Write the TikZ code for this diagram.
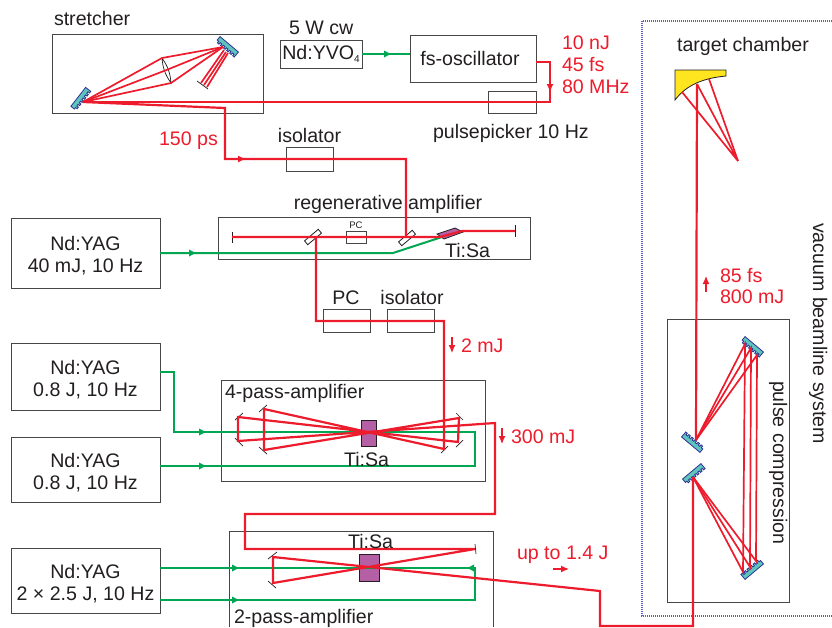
\documentclass[tikz,border=0pt]{standalone}
\usepackage{fontspec}
\setmainfont{Liberation Sans}
\usetikzlibrary{arrows.meta}
\definecolor{ink}{RGB}{35,31,32}
\definecolor{frame}{RGB}{70,70,70}
\definecolor{beamred}{RGB}{237,28,44}
\definecolor{pumpgreen}{RGB}{0,166,81}
\definecolor{crystal}{RGB}{181,95,165}
\definecolor{teal}{RGB}{95,196,190}
\definecolor{gratingblue}{RGB}{46,49,146}
\definecolor{vacblue}{RGB}{95,95,195}
\definecolor{mirroryellow}{RGB}{255,229,31}
\tikzset{
  box/.style={draw=frame,line width=.9pt,inner sep=0pt,outer sep=0pt,text=ink,align=center,font=\fontsize{19.6}{22}\selectfont},
  lbl/.style={inner sep=0pt,outer sep=0pt,anchor=base west,text=ink,font=\fontsize{19.6}{22}\selectfont},
  redlbl/.style={lbl,text=beamred},
  beam/.style={draw=beamred,line width=2.2pt,line join=miter},
  thinbeam/.style={draw=beamred,line width=1.7pt},
  pump/.style={draw=pumpgreen,line width=2pt},
  redtip/.style={draw=beamred,line width=1.2pt,-{Latex[length=8pt,width=7pt]}},
  pumptip/.style={pump,-{Latex[length=8pt,width=7.5pt]}},
  mirrortick/.style={draw=ink,line width=.7pt},
  crystalbox/.style={draw=ink,fill=crystal,line width=.8pt,inner sep=0pt,outer sep=0pt},
  polarizer/.style={draw=ink,fill=white,line width=.8pt,inner sep=0pt,minimum width=18pt,minimum height=5pt},
  grating/.style={draw=gratingblue,fill=teal,line width=.8pt}
}
\newcommand{\gratingat}[3]{%
  \begin{scope}[shift={(#1,#2)},rotate=#3]
    \path[grating] (-12,-3.5) -- (12,-3.5) \foreach \t in {12,8,4,0,-4,-8} {-- (\t,3) -- (\t-2,3) -- (\t-2,1) -- (\t-4,1)} -- cycle;
  \end{scope}}
\newcommand{\boxdrop}{\rule{0pt}{20pt}}
\begin{document}
\begin{tikzpicture}[x=1pt,y=-1pt]
\path[use as bounding box] (0,0) rectangle (832,627);
% boxes
\node[box,minimum width=211pt,minimum height=79pt] (stretcher) at (157.5,73.5) {};
\node[box,minimum width=82pt,minimum height=28pt] (yvo) at (321,54) {Nd:YVO\raisebox{-3pt}{\fontsize{10}{10}\selectfont 4}};
\node[box,minimum width=126pt,minimum height=47pt] (osc) at (473,58.5) {};
\node[box,minimum width=48pt,minimum height=22pt] (picker) at (512,102) {};
\node[box,minimum width=47pt,minimum height=24pt] (isoA) at (309.5,159) {};
\node[box,minimum width=312pt,minimum height=42pt] (regen) at (374,238) {};
\node[box,minimum width=20pt,minimum height=12pt] (pcA) at (356,237) {};
\node[box,minimum width=47pt,minimum height=23pt] (pcB) at (346.5,320.5) {};
\node[box,minimum width=47pt,minimum height=23pt] (isoB) at (410.5,320.5) {};
\node[box,minimum width=264pt,minimum height=101pt] (ampA) at (353,430.5) {};
\node[box,minimum width=149pt,minimum height=70pt] (yagA) at (85.5,253) {\boxdrop Nd:YAG\\40 mJ, 10 Hz};
\node[box,minimum width=149pt,minimum height=67pt] (yagB) at (85.5,377) {\boxdrop Nd:YAG\\0.8 J, 10 Hz};
\node[box,minimum width=149pt,minimum height=65pt] (yagC) at (85.5,469.5) {\boxdrop Nd:YAG\\0.8 J, 10 Hz};
\node[box,minimum width=149pt,minimum height=65pt] (yagD) at (85.5,580.5) {\boxdrop Nd:YAG\\2 × 2.5 J, 10 Hz};
\node[box,minimum width=122pt,minimum height=283pt] (compressor) at (728,460.5) {};
\coordinate (ampBsw) at (229,627);
\coordinate (ampBnw) at (229,531);
\coordinate (ampBne) at (493,531);
\coordinate (ampBse) at (493,627);
\draw[frame,line width=.9pt] (ampBsw) -- (ampBnw) -- (ampBne) -- (ampBse);
\coordinate (vacNE) at (832,21);
\coordinate (vacNW) at (642,21);
\coordinate (vacSW) at (642,616);
\coordinate (vacSE) at (832,616);
\draw[vacblue,line width=1.2pt,dash pattern=on 1pt off 1pt] (vacNE) -- (vacNW) -- (vacSW) -- (vacSE);
% crystals
\node[crystalbox,minimum width=15pt,minimum height=26pt] (crystalA) at (368.5,433) {};
\node[crystalbox,minimum width=20pt,minimum height=27pt] (crystalB) at (369,567.5) {};
\path[draw=ink,fill=crystal,line width=.8pt] (437,234) -- (455,228) -- (463,232) -- (444,239) -- cycle;
\node[polarizer,rotate=40] (tfpA) at (313,237) {};
\node[polarizer,rotate=40] (tfpB) at (407,238) {};
% gratings and mirrors
\gratingat{81}{99}{52}
\gratingat{227}{47}{-40}
\gratingat{752}{347}{-40}
\gratingat{693}{442}{140}
\gratingat{694}{474}{40}
\gratingat{752}{569}{220}
\path[draw=ink,fill=mirroryellow,line width=.8pt] (675,70) -- (726,70) -- (726,76) .. controls (705,78) and (687,84) .. (675,100) -- cycle;
\foreach \xa/\ya/\xb/\yb in {232/232/232/243,515/225/515/237,197/81/208/89,
  235/420/243/413,235/438/243/446,259/412/267/405,259/447/267/454,
  441/453/448/446,456/413/463/420,456/447/463/440,
  475/544/476/554,268/559/277/552,268/581/276/588}
  \draw[mirrortick] (\xa,\ya) -- (\xb,\yb);
\coordinate (lensT) at (162,58);
\coordinate (lensB) at (171,83);
\draw[ink,line width=.7pt] (lensT) to[bend left=15] (lensB) to[bend left=15] (lensT);
% stretcher rays
\coordinate (focusS) at (83,102);
\coordinate (gratS) at (223,47);
\draw[thinbeam] (focusS) -- (lensT) -- (gratS);
\draw[thinbeam] (focusS) -- (166.5,70) -- (gratS);
\draw[thinbeam] (focusS) -- (lensB) -- (gratS);
\draw[thinbeam] (224,50) -- (201,83);
\draw[thinbeam] (226,52) -- (204,85);
\draw[thinbeam] (228,53) -- (207,87);
% pump beams
\draw[pump] (yvo.east) -- (osc.west |- yvo.east);
\draw[pumptip] (yvo.east) -- (392,54);
\coordinate (pumpA) at (393,253);
\coordinate (pumpAend) at (442,237);
\draw[pump] (yagA.east) -- (pumpA) -- (pumpAend);
\draw[pumptip] (yagA.east) -- (197,253);
\coordinate (yagBout) at (160,372);
\coordinate (yagCout) at (160,466);
\coordinate (loopAtop) at (475,432);
\coordinate (loopAbot) at (475,466);
\draw[pump] (yagBout) -- (174,372) -- (174,432) -- (loopAtop) -- (loopAbot) -- (yagCout);
\draw[pumptip] (174,432) -- (207,432);
\draw[pumptip] (yagCout) -- (207,466);
\coordinate (yagDoutA) at (160,568);
\coordinate (yagDoutB) at (160,600);
\coordinate (loopBtop) at (475,568);
\coordinate (loopBbot) at (475,600);
\draw[pump] (yagDoutA) -- (loopBtop) -- (loopBbot) -- (yagDoutB);
\draw[pumptip] (yagDoutA) -- (240,568);
\draw[pumptip] (yagDoutB) -- (240,600);
\draw[pumptip] (loopBtop) -- (466,568);
% main beam
\draw[beam] (osc.east |- 0,62) -- (550,62) -- (550,102) -- (focusS);
\draw[redtip] (550,78) -- (550,92);
\draw[beam] (focusS) -- (225,108) -- (225,159) -- (406,159) -- (406,237);
\draw[redtip] (232,159) -- (246,159);
\coordinate (regenL) at (232,237);
\coordinate (regenR) at (515,231);
\draw[beam] (regenL) -- (440,237) -- (462,231) -- (regenR);
\draw[beam] (316,237) -- (316,321) -- (444,321) -- (444,449)
  -- (264,409) -- (264,450) -- (459,418) -- (458,442) -- (238,417) -- (238,441) -- (495,423)
  -- (495,514) -- (245,514) -- (245,549) -- (475,549) -- (273,583) -- (273,557) -- (600,591)
  -- (600,626) -- (693,626) -- (693,477);
% compressor rays
\foreach \xa/\ya/\xb/\yb in {745/344/743/572,751/348/750/567,757/355/756/561}{
  \draw[thinbeam] (696,440) -- (\xa,\ya) -- (\xb,\yb) -- (693,477);}
\coordinate (focusT) at (738,161);
\draw[beam] (696,440) -- (697,84);
\draw[thinbeam] (682,92) -- (focusT) -- (697,84);
\draw[thinbeam] (709,79) -- (focusT);
% small arrows
\draw[redtip] (452,337) -- (452,353);
\draw[redtip] (502,428) -- (502,444);
\draw[redtip] (553,569) -- (569,569);
\draw[redtip] (706,292) -- (706,276);
% labels
\node[lbl] (stretcherlbl) at (54,25) {stretcher};
\node[lbl] (cwlbl) at (289,34) {5 W cw};
\node[lbl,anchor=base] (osclbl) at (470,65) {fs-oscillator};
\node[lbl] (pickerlbl) at (433,138) {pulsepicker 10 Hz};
\node[lbl,anchor=base] (isoAlbl) at (309.5,142) {isolator};
\node[lbl,anchor=base] (regenlbl) at (388,209) {regenerative amplifier};
\node[lbl,anchor=base,font=\fontsize{9.5}{11}\selectfont] (pcAlbl) at (356,228.5) {PC};
\node[lbl] (tisaAlbl) at (445,257) {Ti:Sa};
\node[lbl,anchor=base] (pcBlbl) at (346,304) {PC};
\node[lbl,anchor=base] (isoBlbl) at (412,304) {isolator};
\node[lbl] (ampAlbl) at (225,398) {4-pass-amplifier};
\node[lbl] (tisaBlbl) at (344,466) {Ti:Sa};
\node[lbl] (tisaClbl) at (348,548) {Ti:Sa};
\node[lbl] (ampBlbl) at (234,623) {2-pass-amplifier};
\node[lbl,anchor=base] (targetlbl) at (743,51) {target chamber};
\node[lbl,rotate=-90] (vaclbl) at (813,223) {vacuum beamline system};
\node[lbl,rotate=-90] (complbl) at (773,381) {pulse compression};
\node[redlbl] (nJlbl) at (562,49) {10 nJ};
\node[redlbl] (fslbl) at (562,71) {45 fs};
\node[redlbl] (MHzlbl) at (562,93) {80 MHz};
\node[redlbl] (pslbl) at (159,145) {150 ps};
\node[redlbl] (twomJlbl) at (461,352) {2 mJ};
\node[redlbl] (threemJlbl) at (511,443) {300 mJ};
\node[redlbl] (uptolbl) at (517,559) {up to 1.4 J};
\node[redlbl] (compfslbl) at (720,282) {85 fs};
\node[redlbl] (compmJlbl) at (720,303) {800 mJ};
\end{tikzpicture}
\end{document}
